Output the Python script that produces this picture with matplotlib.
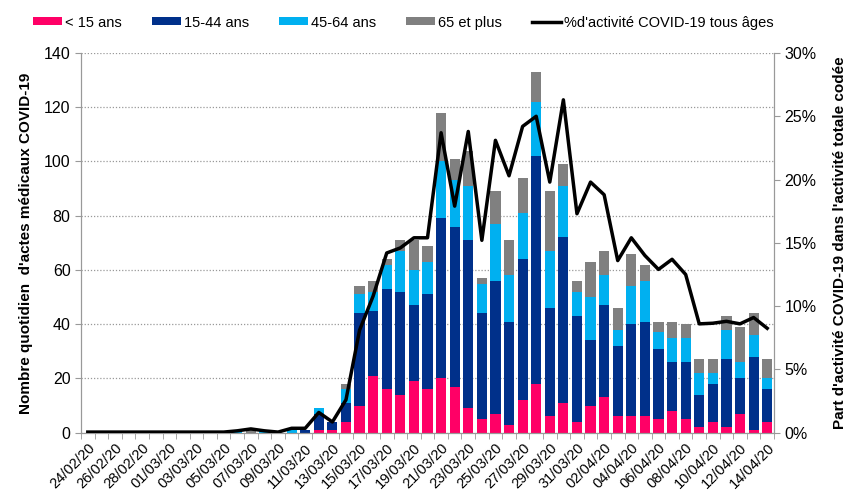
import pandas as pd
import matplotlib.pyplot as plt
from matplotlib.ticker import FuncFormatter, MultipleLocator

plt.rcParams['font.family'] = ['Liberation Sans', 'DejaVu Sans']

# Daily dates, 24/02/20 -> 14/04/20
dates = pd.date_range("2020-02-24", "2020-04-14", freq="D").strftime("%d/%m/%y").tolist()

# Daily COVID-19 medical acts per age group
moins15 = [0]*17 + [1, 1, 4, 10, 21, 16, 14, 19, 16, 20, 17, 9, 5, 7, 3, 12, 18, 6, 11,
                    4, 10, 13, 6, 6, 6, 5, 8, 5, 2, 4, 2, 7, 1, 4]
ans15_44 = [0]*16 + [1, 6, 3, 7, 34, 24, 37, 38, 28, 35, 59, 59, 62, 39, 49, 38, 52, 84, 40, 61,
                     39, 24, 34, 26, 34, 35, 26, 18, 21, 12, 14, 25, 13, 27, 12]
ans45_64 = [0]*11 + [1, 0, 1, 0, 1, 0, 2, 0, 5, 7, 7, 9, 15, 13, 12, 21, 17, 20, 11, 21, 17, 17, 20, 21, 19,
                     9, 16, 11, 6, 14, 15, 6, 9, 9, 8, 4, 11, 6, 8, 4]
plus65 = [0]*12 + [1] + [0]*6 + [2, 3, 4, 2, 4, 11, 6, 18, 8, 13, 2, 12, 13, 13, 11, 22, 8,
                          4, 13, 9, 8, 12, 6, 4, 6, 5, 5, 5, 5, 13, 8, 7]

# Share of COVID-19 activity, all ages (%)
pct_covid = [0.05]*11 + [0.15, 0.3, 0.15, 0.05, 0.35, 0.35, 1.6, 0.85, 2.6, 8.1, 10.8, 14.2, 14.6,
                         15.4, 15.4, 23.7, 17.9, 23.8, 15.2, 23.1, 20.3, 24.2, 25.0, 19.8, 26.3,
                         17.3, 19.8, 18.8, 13.6, 15.4, 14.0, 12.9, 13.7, 12.5, 8.6, 8.65, 8.8,
                         8.6, 9.1, 8.25]

x = list(range(len(dates)))

fig = plt.figure(figsize=(8.51, 4.92), dpi=100)
ax = fig.add_axes([0.0952, 0.1205, 0.8143, 0.7718])

colors = ["#FF0066", "#00308A", "#00B0F0", "#808080"]
labels = ["< 15 ans", "15-44 ans", "45-64 ans", "65 et plus"]
bottom = [0]*len(x)
for serie, col, lab in zip([moins15, ans15_44, ans45_64, plus65], colors, labels):
    ax.bar(x, serie, width=0.75, bottom=bottom, color=col, label=lab, zorder=2)
    bottom = [b + v for b, v in zip(bottom, serie)]

ax.set_xlim(-0.5, len(x) - 0.5)
ax.set_ylim(0, 140)
ax.yaxis.set_major_locator(MultipleLocator(20))
ax.grid(axis="y", linestyle=(0, (1, 1.5)), color="#999999", linewidth=0.9, zorder=0)
ax.set_axisbelow(True)

ax.set_xticks(x[::2])
ax.set_xticklabels(dates[::2], rotation=45, ha="right", rotation_mode="anchor", fontsize=10.5)
ax.set_xticks([i - 0.5 for i in range(len(x) + 1)], minor=True)
ax.tick_params(axis="x", which="major", length=0, pad=6)
ax.tick_params(axis="x", which="minor", length=4, color="#999999")
ax.tick_params(axis="y", labelsize=11.5, length=4, color="#999999")

ax.spines["top"].set_visible(False)
for s in ["left", "bottom", "right"]:
    ax.spines[s].set_color("#999999")

ax.set_ylabel("Nombre quotidien  d'actes médicaux COVID-19", fontsize=11, fontweight="bold", labelpad=8)

ax2 = ax.twinx()
ax2.plot(x, pct_covid, color="black", linewidth=2.5, label="%d'activité COVID-19 tous âges", zorder=3)
ax2.set_ylim(0, 30)
ax2.yaxis.set_major_locator(MultipleLocator(5))
ax2.yaxis.set_major_formatter(FuncFormatter(lambda v, p: f"{v:.0f}%"))
ax2.tick_params(axis="y", labelsize=11.5, length=4, color="#999999")
ax2.spines["top"].set_visible(False)
for s in ["left", "bottom", "right"]:
    ax2.spines[s].set_color("#999999")
ax2.set_ylabel("Part d'activité COVID-19 dans l'activité totale codée", fontsize=11,
               fontweight="bold", labelpad=12)

h1, l1 = ax.get_legend_handles_labels()
h2, l2 = ax2.get_legend_handles_labels()
fig.legend(h1 + h2, l1 + l2, loc="upper left", bbox_to_anchor=(0.0237, 0.995), ncol=5, frameon=False,
           fontsize=10.5, handlelength=2.0, handleheight=0.45, handletextpad=0.2, columnspacing=2.05)

plt.savefig("out.png", dpi=100)
